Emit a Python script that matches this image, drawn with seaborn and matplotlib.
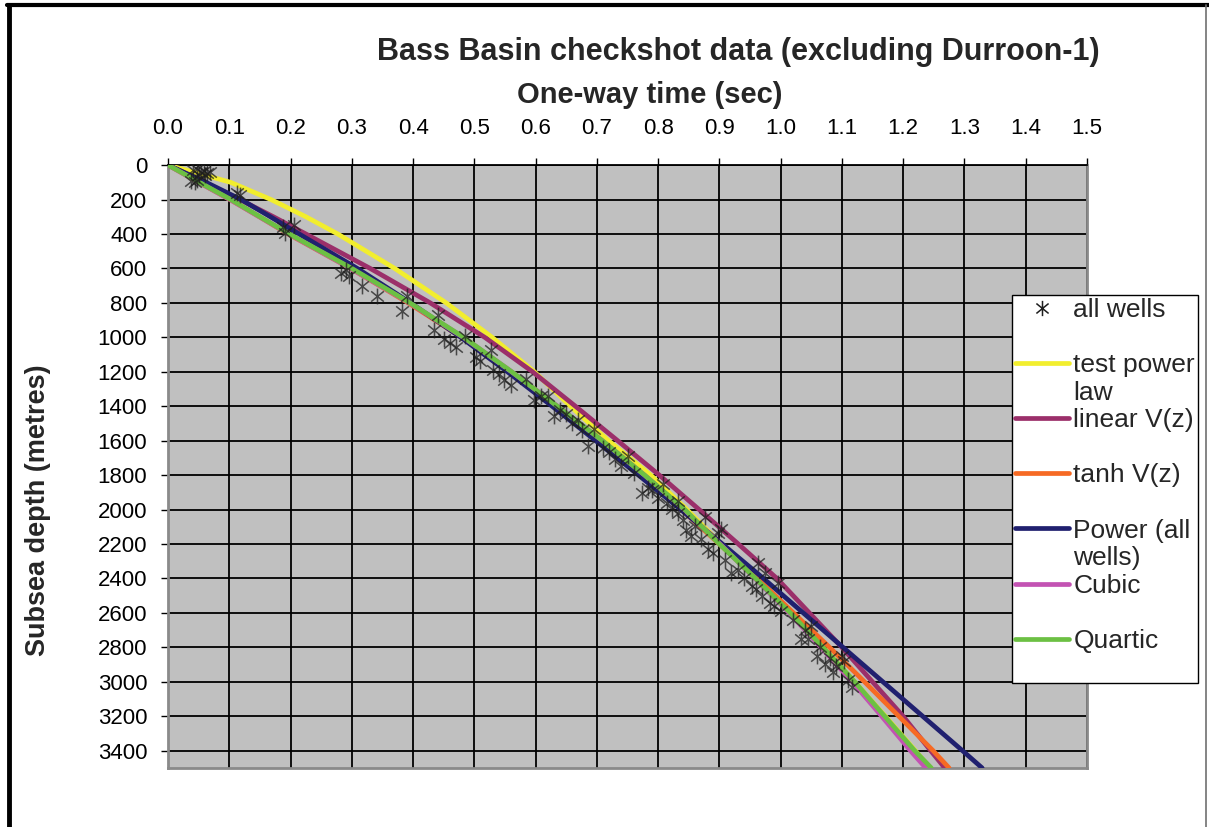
import numpy as np
import pandas as pd
import matplotlib
matplotlib.use("Agg")
import matplotlib.pyplot as plt
from matplotlib.lines import Line2D
from matplotlib.path import Path
import seaborn as sns

# Depth grid (subsea metres) at which each velocity model is tabulated
depth_m = [0, 100, 200, 300, 400, 600, 800, 1000, 1200, 1400, 1600, 1800, 2000,
           2200, 2400, 2600, 2800, 3000, 3200, 3400, 3500]

# One-way time (s) of each model at those depths
test_power_law = [0.000, 0.102, 0.168, 0.225, 0.277, 0.370, 0.454, 0.529, 0.598, 0.657, 0.719,
                  0.788, 0.847, 0.903, 0.960, 1.016, 1.069, 1.121, 1.171, 1.220, 1.244]
linear_vz = [0.000, 0.059, 0.117, 0.172, 0.225, 0.330, 0.428, 0.517, 0.595, 0.665, 0.734,
             0.802, 0.867, 0.931, 0.994, 1.047, 1.100, 1.150, 1.200, 1.245, 1.268]
tanh_vz = [0.000, 0.050, 0.101, 0.149, 0.196, 0.298, 0.392, 0.479, 0.557, 0.631, 0.703,
           0.772, 0.838, 0.900, 0.962, 1.021, 1.080, 1.137, 1.193, 1.249, 1.275]
power_all_wells = [0.000, 0.062, 0.119, 0.167, 0.214, 0.309, 0.396, 0.478, 0.554, 0.627, 0.698,
                   0.768, 0.837, 0.905, 0.972, 1.037, 1.102, 1.167, 1.232, 1.297, 1.329]
cubic = [0.000, 0.050, 0.101, 0.149, 0.197, 0.298, 0.394, 0.482, 0.561, 0.636, 0.709,
         0.778, 0.843, 0.901, 0.958, 1.014, 1.066, 1.117, 1.165, 1.212, 1.237]
quartic = [0.000, 0.051, 0.1025, 0.150, 0.198, 0.300, 0.395, 0.4825, 0.561, 0.6355, 0.709,
           0.778, 0.8436, 0.900, 0.959, 1.016, 1.069, 1.121, 1.170, 1.219, 1.246]

# Checkshot observations from all wells: one-way time (s) and depth (m)
well_time = [0.040, 0.047, 0.053, 0.058, 0.063, 0.068, 0.050, 0.060, 0.038, 0.044,
             0.047, 0.112, 0.118, 0.188, 0.205, 0.191, 0.283, 0.290, 0.296, 0.317,
             0.341, 0.382, 0.390, 0.440, 0.434, 0.450, 0.460, 0.470, 0.484, 0.502,
             0.510, 0.527, 0.530, 0.540, 0.548, 0.560, 0.585, 0.598, 0.609, 0.620,
             0.630, 0.640, 0.650, 0.660, 0.669, 0.675, 0.685, 0.696, 0.710, 0.720,
             0.729, 0.740, 0.751, 0.761, 0.773, 0.783, 0.790, 0.800, 0.808, 0.815,
             0.822, 0.833, 0.833, 0.840, 0.846, 0.854, 0.860, 0.870, 0.876, 0.882,
             0.890, 0.898, 0.903, 0.910, 0.919, 0.930, 0.940, 0.953, 0.960, 0.963,
             0.970, 0.974, 0.983, 0.990, 0.996, 1.000, 1.020, 1.034, 1.040, 1.045,
             1.050, 1.059, 1.065, 1.073, 1.080, 1.086, 1.090, 1.100, 1.103, 1.110,
             1.116]
well_depth = [30, 25, 40, 35, 45, 40, 55, 60, 95, 100,
              88, 164, 175, 357, 348, 394, 625, 610, 645, 700,
              760, 845, 760, 870, 960, 1010, 1033, 1055, 990, 1115,
              1140, 1075, 1190, 1215, 1246, 1275, 1240, 1362, 1342, 1342,
              1458, 1420, 1445, 1500, 1478, 1540, 1632, 1535, 1645, 1665,
              1709, 1745, 1690, 1786, 1902, 1873, 1885, 1935, 1850, 1960,
              1999, 1951, 2018, 2060, 2120, 2154, 2096, 2170, 2045, 2231,
              2250, 2134, 2115, 2290, 2366, 2350, 2400, 2443, 2460, 2308,
              2500, 2366, 2540, 2560, 2424, 2590, 2640, 2752, 2700, 2752,
              2675, 2849, 2800, 2897, 2860, 2945, 2910, 2849, 2878, 2990,
              3030]

x_ticks = [0.0, 0.1, 0.2, 0.3, 0.4, 0.5, 0.6, 0.7, 0.8, 0.9, 1.0, 1.1, 1.2, 1.3, 1.4, 1.5]
y_ticks = [0, 200, 400, 600, 800, 1000, 1200, 1400, 1600, 1800, 2000, 2200,
           2400, 2600, 2800, 3000, 3200, 3400]

models = [
    ("test power law", test_power_law, "#f2ee2e"),
    ("linear V(z)", linear_vz, "#9b2f6a"),
    ("tanh V(z)", tanh_vz, "#f66a24"),
    ("Power (all wells)", power_all_wells, "#20206f"),
    ("Cubic", cubic, "#c353b3"),
    ("Quartic", quartic, "#6cc043"),
]

sns.set_style("white")
plt.rcParams['font.family'] = ['Liberation Sans', 'DejaVu Sans']

fig = plt.figure(figsize=(12.09, 8.27), dpi=100)
ax = fig.add_axes([0.139, 0.0714, 0.760, 0.729])
ax.set_facecolor("#c0c0c0")

# Model curves
for i, (name, times, color) in enumerate(models):
    sns.lineplot(x=times, y=depth_m, sort=False, estimator=None, color=color,
                 lw=3.4, ax=ax, zorder=3 + i * 0.1)

# Asterisk marker: vertical stroke plus a diagonal cross
asterisk = Path([(0, -1), (0, 1), (-0.8, -0.65), (0.8, 0.65), (-0.8, 0.65), (0.8, -0.65)],
                [Path.MOVETO, Path.LINETO, Path.MOVETO, Path.LINETO, Path.MOVETO, Path.LINETO])
sns.scatterplot(x=well_time, y=well_depth, marker=asterisk, s=130, color="#1e1e1e",
                edgecolor="#1e1e1e", linewidth=1.1, alpha=0.75, ax=ax, zorder=5, legend=False)

ax.set_xlim(0, 1.5)
ax.set_ylim(3500, 0)
ax.set_xticks(x_ticks)
ax.set_xticklabels([f"{v:.1f}" for v in x_ticks])
ax.set_yticks(y_ticks)
ax.set_yticklabels([str(v) for v in y_ticks])
ax.xaxis.tick_top()
ax.xaxis.set_label_position("top")
ax.grid(True, color="black", lw=1.3)
ax.set_axisbelow(True)
ax.tick_params(axis="x", which="both", top=True, bottom=False, direction="out",
               length=5, width=1, pad=14, labelsize=16, colors="black")
ax.tick_params(axis="y", which="both", left=True, direction="out",
               length=5, width=1, pad=10, labelsize=16, colors="black")
for side in ["left", "right", "bottom"]:
    ax.spines[side].set_color("#8a8a8a")
    ax.spines[side].set_linewidth(2)
ax.spines["top"].set_color("black")
ax.spines["top"].set_linewidth(1.3)

ax.set_xlabel("One-way time (sec)", fontsize=21, fontweight="bold")
ax.xaxis.set_label_coords(0.5245, 1.116)
ax.xaxis.label.set_va("center")
ax.set_ylabel("Subsea depth (metres)", fontsize=19.5, fontweight="bold")
ax.yaxis.set_label_coords(-0.1415, 0.428)
ax.yaxis.label.set_va("center")

fig.text(0.611, 0.937, "Bass Basin checkshot data (excluding Durroon-1)",
         ha="center", va="center", fontsize=22, fontweight="bold")

# Legend: each entry takes two rows so wrapped labels start level with their key
blank = Line2D([], [], color="none")
handles = [
    Line2D([], [], ls="none", marker=asterisk, markersize=11, markeredgecolor="#1e1e1e",
           markerfacecolor="none", markeredgewidth=1.1), blank,
    Line2D([], [], color=models[0][2], lw=3.4), blank,
    Line2D([], [], color=models[1][2], lw=3.4), blank,
    Line2D([], [], color=models[2][2], lw=3.4), blank,
    Line2D([], [], color=models[3][2], lw=3.4), blank,
    Line2D([], [], color=models[4][2], lw=3.4), blank,
    Line2D([], [], color=models[5][2], lw=3.4), blank,
]
labels = ["all wells", " ", "test power", "law", "linear V(z)", " ", "tanh V(z)", " ",
          "Power (all", "wells)", "Cubic", " ", "Quartic", " "]
leg = ax.legend(handles, labels, loc="upper left", bbox_to_anchor=(0.837, 0.643),
                bbox_transform=fig.transFigure, frameon=True, fancybox=False,
                edgecolor="black", framealpha=1, fontsize=19, handlelength=2.05,
                handletextpad=0.18, labelspacing=0.136, borderpad=0.1, borderaxespad=0)
leg.get_frame().set_linewidth(1.0)
leg.set_zorder(10)

# Outer frame of the figure
fig.add_artist(Line2D([0.0075, 0.0075], [0, 0.994], transform=fig.transFigure,
                      color="black", lw=3.5))
fig.add_artist(Line2D([0.0060, 1.0], [0.9935, 0.9935], transform=fig.transFigure,
                      color="black", lw=3.0))
fig.add_artist(Line2D([0.9975, 0.9975], [0, 0.994], transform=fig.transFigure,
                      color="#707070", lw=1.2))

fig.savefig("out.png", dpi=100, facecolor="white")
